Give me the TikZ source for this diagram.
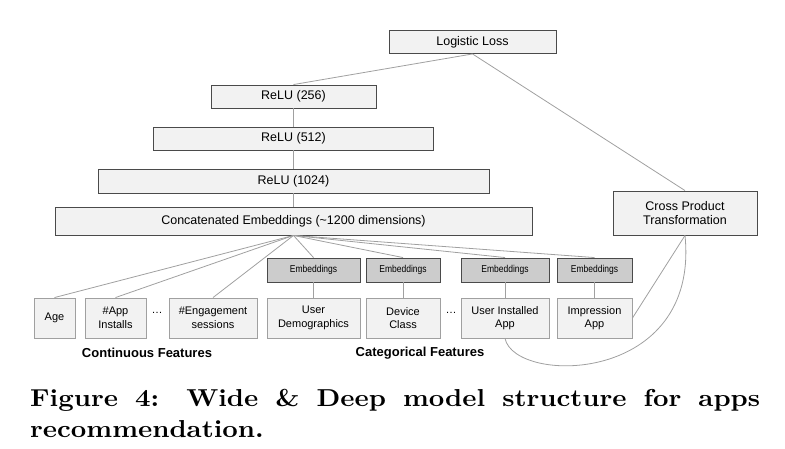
\documentclass[tikz,border=0pt]{standalone}
\usepackage{fontspec}
\setsansfont{Liberation Sans}
\newfontfamily\embfont[FakeStretch=0.85]{Liberation Sans}
\newfontfamily\capfont[FakeStretch=1.1]{lmroman10-bold.otf}
\usepackage{tikz}
\usetikzlibrary{positioning}
\definecolor{boxfill}{HTML}{F2F2F2}
\definecolor{embfill}{HTML}{CCCCCC}
\definecolor{darkline}{HTML}{4A4A4A}
\definecolor{lightline}{HTML}{A0A0A0}

\begin{document}
\begin{tikzpicture}[x=1pt,y=-1pt,
  layer/.style={draw=darkline,fill=boxfill,line width=0.9pt,inner sep=0pt,minimum height=23pt,align=center,font=\sffamily\fontsize{12.5}{14}\selectfont},
  emb/.style={draw=darkline,fill=embfill,line width=0.9pt,inner sep=0pt,minimum height=24pt,align=center,font=\embfont\fontsize{10}{12}\selectfont},
  feat/.style={draw=lightline,fill=boxfill,line width=0.9pt,inner sep=0pt,minimum height=40pt,align=center,font=\sffamily\fontsize{11}{13.5}\selectfont},
  group/.style={font=\sffamily\bfseries\fontsize{13}{15}\selectfont},
  link/.style={draw=lightline,line width=0.8pt}]
\useasboundingbox (0,0) rectangle (785,448);
% deep part
\node[layer,minimum width=167pt] (loss) at (472.5,42) {Logistic Loss};
\node[layer,minimum width=165pt] (relu256) at (293.5,96.5) {ReLU (256)};
\node[layer,minimum width=280pt] (relu512) at (293.5,138.5) {ReLU (512)};
\node[layer,minimum width=391pt,minimum height=24pt] (relu1024) at (293.5,181) {ReLU (1024)};
\node[layer,minimum width=477pt,minimum height=28pt] (concat) at (293.5,221) {Concatenated Embeddings (\textasciitilde1200 dimensions)};
% wide part
\node[layer,minimum width=144pt,minimum height=44pt] (cross) at (685,213) {Cross Product\\Transformation};
% embeddings
\node[emb,minimum width=93pt] (embA) at (313.5,270) {Embeddings};
\node[emb,minimum width=74pt] (embB) at (403,270) {Embeddings};
\node[emb,minimum width=88pt] (embC) at (505,270) {Embeddings};
\node[emb,minimum width=75pt] (embD) at (594.5,270) {Embeddings};
% input features
\node[feat,minimum width=41pt] (age) at (54.5,318) {Age};
\node[feat,minimum width=61pt] (installs) at (115.5,318) {\#App\\Installs};
\node[feat,minimum width=88pt] (sessions) at (213,318) {\#Engagement\\sessions};
\node[feat,minimum width=93pt] (demo) at (313.5,318) {User\\Demographics};
\node[feat,minimum width=74pt] (device) at (403,318) {Device\\Class};
\node[feat,minimum width=88pt] (installed) at (505,318) {User Installed\\App};
\node[feat,minimum width=75pt] (impression) at (594.5,318) {Impression\\App};
\node[font=\sffamily\fontsize{11}{13}\selectfont] (dotsA) at (157,313) {\dots};
\node[font=\sffamily\fontsize{11}{13}\selectfont] (dotsB) at (451,313) {\dots};
\node[group] (contlbl) at (147,353) {Continuous Features};
\node[group] (catlbl) at (420,353) {Categorical Features};
% connectors
\draw[link] (loss.south) -- (relu256.north);
\draw[link] (loss.south) -- (cross.north);
\draw[link] (relu256) -- (relu512);
\draw[link] (relu512) -- (relu1024);
\draw[link] (relu1024) -- (concat);
\foreach \n in {age,installs,sessions,embA,embB,embC,embD}
  \draw[link] (concat.south) -- (\n.north);
\draw[link] (embA) -- (demo);
\draw[link] (embB) -- (device);
\draw[link] (embC) -- (installed);
\draw[link] (embD) -- (impression);
\draw[link] (cross.south) -- (impression.east);
\draw[link] (installed.south) .. controls (515,385) and (700,385) .. (cross.south);
% caption
\node[anchor=base west,inner sep=0pt,align=left,font=\capfont\fontsize{24.5}{31}\selectfont] (caption) at (30,437)
  {\makebox[730pt][s]{Figure 4: Wide \& Deep model structure for apps}\\recommendation.};
\end{tikzpicture}
\end{document}
